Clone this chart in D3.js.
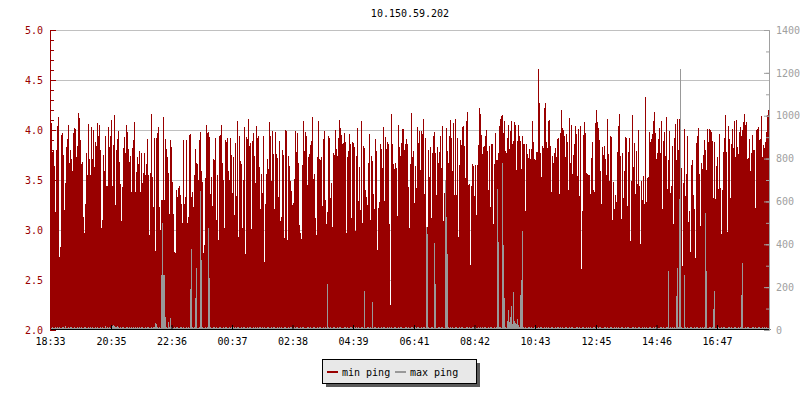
<!DOCTYPE html>
<html><head><meta charset="utf-8">
<script src="https://cdn.jsdelivr.net/npm/d3@7"></script>
<style>
body{margin:0;background:#fff}
svg{display:block}
text{font-family:"DejaVu Sans Mono",monospace;font-size:10px}
</style>
</head><body><svg id="chart" width="800" height="400"></svg>
<script>
const title = "10.150.59.202";
const startLabel = "18:33";
const stepMinutes = 2;
const timeLabels = ["18:33","20:35","22:36","00:37","02:38","04:39","06:41","08:42","10:43","12:45","14:46","16:47"];
const leftTicks = [2.0,2.5,3.0,3.5,4.0,4.5,5.0];
const rightTicks = [0,200,400,600,800,1000,1200,1400];
const seriesNames = ["min ping","max ping"];
const seriesColors = ["#990000","#999999"];

const minPing = [
3.53,4.07,3.78,3.80,3.64,3.18,3.80,4.04,4.13,2.73,
2.83,3.95,3.97,3.75,3.20,3.47,3.83,3.91,4.05,3.67,
3.80,3.71,3.59,3.97,4.02,4.01,3.73,3.84,4.17,4.12,
3.90,3.66,3.68,3.13,2.97,3.26,3.77,3.55,4.06,3.71,
3.55,4.03,3.71,4.00,3.63,3.88,3.84,4.07,3.94,4.05,
3.80,3.02,3.10,3.75,3.59,3.94,3.44,3.44,4.03,3.83,
3.94,4.10,3.44,3.85,4.15,3.25,3.80,3.91,3.99,3.68,
3.46,3.09,3.43,3.82,3.93,3.77,4.05,3.98,3.81,3.68,
3.74,3.38,3.82,3.90,4.08,3.38,3.58,3.73,3.66,3.79,
3.38,3.77,3.47,3.57,3.77,3.55,3.66,3.91,3.55,2.95,
3.57,4.16,3.53,3.23,3.92,2.79,3.92,3.97,4.03,3.23,
3.00,3.30,3.30,4.13,3.30,3.91,3.81,3.73,3.57,3.16,
3.90,3.83,3.48,3.16,2.78,2.77,3.40,3.33,3.42,3.44,
3.35,3.26,3.07,3.90,3.26,3.33,3.90,3.07,3.13,3.95,
3.96,3.33,3.38,3.23,3.55,3.81,3.67,3.66,3.50,3.90,
3.98,3.59,3.48,2.77,2.85,3.52,4.05,3.97,3.98,3.93,
3.36,3.53,3.24,3.71,3.70,3.92,3.10,3.55,2.90,3.94,
3.95,4.05,3.67,3.50,3.02,3.90,3.88,3.92,3.59,3.50,
3.92,3.75,3.37,3.73,3.15,3.87,3.34,4.09,2.93,3.94,
3.69,3.66,3.02,3.50,4.03,2.76,3.93,3.91,4.11,3.84,
3.87,3.01,3.89,3.97,3.74,3.47,4.04,3.92,3.94,3.63,
3.21,3.56,3.37,3.94,2.68,3.26,3.56,3.71,3.61,4.08,
3.94,3.49,3.99,3.76,3.21,3.98,3.76,3.72,3.33,3.89,
3.09,3.13,3.80,3.75,2.92,4.00,3.99,2.90,3.74,3.64,
3.49,3.39,3.25,3.27,3.51,3.99,3.78,3.97,3.67,3.05,
2.97,2.91,3.65,4.09,3.79,3.98,3.94,3.45,3.73,3.76,
3.85,3.89,4.13,3.51,3.56,3.12,2.95,3.73,4.09,3.71,
3.70,3.73,3.24,3.91,3.99,3.30,3.06,3.18,3.94,3.92,
3.32,3.47,3.03,3.77,3.75,4.00,3.81,3.74,3.92,4.10,
4.02,3.95,3.86,3.87,3.97,3.88,2.97,3.73,3.79,3.96,
3.86,3.12,3.88,3.87,3.83,2.99,3.74,4.02,3.29,3.63,
3.20,4.09,3.07,3.84,3.82,3.40,3.33,3.25,3.67,3.96,
3.10,3.74,3.69,3.36,3.21,3.91,3.79,2.80,3.22,3.28,
3.86,3.81,3.62,4.03,3.29,3.93,3.81,3.88,3.86,3.06,
2.25,4.16,3.86,3.66,3.61,3.67,3.62,3.14,4.05,3.83,
3.74,3.87,4.01,4.01,3.80,3.86,3.91,3.86,3.43,3.02,
3.66,4.17,3.73,3.79,3.27,3.64,3.42,4.03,3.87,3.99,
3.60,3.99,3.96,4.11,3.36,3.92,3.03,3.03,3.80,3.53,
3.83,3.12,3.77,3.94,3.98,3.77,3.35,3.83,3.67,3.78,
3.94,3.62,4.04,3.09,3.37,2.95,4.02,3.79,3.67,3.94,
4.10,3.92,3.59,4.07,3.35,4.11,3.35,3.92,2.93,3.65,
3.90,3.85,4.03,4.04,3.84,3.52,4.09,4.18,3.45,3.46,
2.65,3.44,3.66,3.64,3.34,3.65,3.15,3.65,3.85,4.22,
4.16,3.95,3.76,3.83,3.84,3.94,4.00,3.79,3.40,3.84,
3.23,3.86,3.86,3.06,3.66,3.97,3.70,3.70,3.77,4.04,
4.11,4.14,4.15,3.97,4.09,3.79,3.77,3.92,4.05,3.81,
3.99,4.09,3.86,3.89,4.08,4.05,3.60,3.89,4.05,3.94,
3.89,3.61,3.94,3.86,3.86,3.19,3.86,3.76,3.72,3.81,
3.71,3.81,4.09,3.88,3.71,3.70,3.78,3.78,4.61,4.27,
3.77,3.53,3.84,3.82,4.22,4.27,3.88,3.82,4.09,4.10,
3.84,3.38,3.74,3.67,3.77,3.82,3.73,3.91,3.92,3.36,
3.97,4.20,4.02,4.00,3.94,3.73,3.96,3.88,3.40,4.12,
3.67,4.05,3.56,3.75,3.86,4.04,3.96,3.54,4.01,3.34,
4.04,2.61,3.19,3.95,4.08,3.97,3.57,3.56,3.55,3.55,
3.36,3.72,3.88,3.40,3.38,4.07,4.20,4.08,4.02,3.90,
3.59,3.26,3.83,3.75,3.84,3.71,3.55,4.11,3.76,3.49,
3.94,3.93,3.10,3.48,3.21,3.35,3.28,3.78,4.04,4.16,
3.74,3.11,3.77,3.32,3.59,3.93,3.92,3.24,3.78,3.92,
2.89,3.49,4.15,3.63,3.87,3.36,3.79,3.46,4.00,3.44,
2.86,3.49,3.30,3.54,3.26,4.33,3.28,3.52,3.53,3.98,
3.88,3.91,3.96,4.09,4.18,3.97,3.71,3.77,3.91,4.02,
3.77,4.09,3.21,3.89,3.98,3.74,4.13,3.41,3.70,3.99,
3.37,3.44,3.84,3.06,3.92,4.06,3.70,4.11,3.80,4.11,
3.85,3.62,2.64,3.47,4.01,3.34,3.56,3.94,3.08,3.19,
2.78,3.65,3.70,3.35,3.21,2.72,3.87,3.94,4.02,3.56,
3.04,3.67,3.61,3.75,3.90,3.80,3.60,4.01,3.88,4.01,
4.00,3.98,3.89,3.32,3.88,3.31,3.64,3.73,3.41,3.96,
3.42,2.96,3.40,3.78,3.92,4.15,3.78,2.98,4.04,3.91,
3.32,3.86,4.01,3.82,4.09,3.73,4.10,3.83,3.76,3.98,
4.03,3.94,4.00,4.08,4.16,4.05,4.08,3.71,3.72,3.91,
3.59,3.77,3.95,3.80,3.80,3.22,4.00,4.01,4.03,3.90,
3.91,4.14,3.73,3.85,3.82,3.88,3.98,4.15,4.20,4.20
];

const maxPing = [
12,9,14,10,11,13,9,16,10,12,11,9,14,12,10,18,11,9,13,10,12,15,10,9,13,11,10,14,9,12,
10,13,11,9,16,12,10,11,14,9,12,10,13,11,9,15,10,12,11,9,14,10,12,9,11,17,10,13,9,12,
11,14,20,22,18,15,12,19,13,11,14,10,12,16,11,9,13,12,10,15,11,12,9,14,10,13,11,16,10,12,
9,12,14,10,11,13,9,12,15,10,11,14,9,13,12,33,30,12,10,14,11,257,500,257,257,60,13,10,36,12,
56,14,11,9,13,10,12,15,11,9,14,12,10,13,11,9,12,10,14,11,191,378,12,10,13,149,289,11,9,14,
649,327,14,11,10,13,9,12,476,243,15,11,10,13,12,9,14,11,10,12,13,9,11,15,10,12,14,9,11,13,
10,12,9,14,11,13,10,12,15,9,11,13,10,14,12,9,11,13,10,12,14,9,11,12,10,13,9,15,11,12,
13,10,12,9,14,11,10,13,12,9,11,15,10,12,13,9,11,14,10,12,9,13,11,10,14,12,9,11,13,10,
12,14,9,11,13,10,12,15,9,11,14,10,12,13,9,11,10,14,12,9,13,11,10,12,15,9,11,13,10,12,
14,9,11,12,10,13,11,215,12,9,14,11,10,13,12,9,11,14,10,12,13,9,11,10,14,12,9,13,11,10,
12,14,9,11,13,10,12,9,14,11,10,13,12,9,182,11,10,14,12,9,13,11,130,10,12,14,9,11,13,10,
11,13,9,12,14,10,11,13,9,12,10,14,11,9,13,12,10,11,14,9,12,13,10,11,9,14,12,10,13,11,
9,12,14,10,11,13,9,12,15,10,11,14,9,13,12,10,482,448,14,11,10,13,12,9,406,215,11,10,13,12,
10,14,12,9,11,700,527,355,13,10,12,9,14,11,10,13,12,9,11,14,10,12,13,9,11,10,14,12,9,13,
11,10,12,14,9,13,11,10,12,9,14,11,13,10,12,15,11,9,13,10,12,14,9,11,13,10,12,658,411,14,
12,9,779,397,150,13,11,40,95,38,60,110,30,177,42,35,28,50,22,14,163,233,462,12,10,13,11,9,14,12,
10,13,11,9,14,12,10,11,13,9,12,14,10,11,13,9,12,10,14,11,9,13,12,10,11,14,9,12,13,10,
12,9,14,11,10,13,12,9,11,14,10,12,13,9,11,10,14,12,9,13,11,10,12,14,9,11,13,10,12,9,
14,11,10,13,12,9,11,14,10,12,13,9,11,10,14,12,9,13,11,10,12,14,9,11,13,10,12,9,14,11,
10,13,12,9,11,14,10,12,13,9,11,10,14,12,9,13,11,10,12,14,9,11,13,10,12,9,14,11,10,13,
12,9,11,14,10,12,13,9,11,10,14,12,9,13,11,10,12,14,275,11,13,10,12,9,14,11,159,289,12,611,
1218,14,11,10,257,12,9,13,11,10,14,12,9,11,13,10,12,14,9,11,13,10,12,9,14,546,275,11,10,13,
12,9,14,98,182,11,10,13,12,9,11,14,10,12,13,9,11,10,14,12,9,13,11,10,12,14,9,11,13,10,
12,163,313,9,11,14,10,12,13,9,11,10,14,12,9,13,11,10,12,14,9,11,13,10,12,9,14,11,10,13
];

const svg = d3.select("#chart");
const W = 800, H = 400;
const plot = {left: 50, right: 770, top: 30, bottom: 330};
const N = 720;

function parseHM(s, dayOffset) {
  const [h, m] = s.split(":").map(Number);
  return new Date(2020, 0, 1 + dayOffset, h, m);
}
const t0 = parseHM(startLabel, 0);
const tAt = i => new Date(t0.getTime() + i * stepMinutes * 60000);
const tickDates = timeLabels.map(s => {
  let d = parseHM(s, 0);
  if (d < t0) d = parseHM(s, 1);
  return d;
});

const x = d3.scaleTime().domain([t0, tAt(N)]).range([plot.left, plot.right]);
const yL = d3.scaleLinear().domain([2, 5]).range([plot.bottom, plot.top]);
const yR = d3.scaleLinear().domain([0, 1400]).range([plot.bottom, plot.top]);

// grid
svg.append("g").selectAll("line").data(leftTicks.slice(1)).join("line")
  .attr("x1", plot.left).attr("x2", plot.right)
  .attr("y1", d => Math.round(yL(d)) + 0.5).attr("y2", d => Math.round(yL(d)) + 0.5)
  .attr("stroke", "#c0c0c0").attr("stroke-width", 1);

// min ping bars
svg.append("g").attr("shape-rendering", "crispEdges").selectAll("rect")
  .data(minPing.slice(0, N)).join("rect")
  .attr("x", (d, i) => x(tAt(i)))
  .attr("width", (d, i) => x(tAt(i + 1)) - x(tAt(i)))
  .attr("y", d => yL(Math.min(d, 5)))
  .attr("height", d => yL(2) - yL(Math.min(d, 5)))
  .attr("fill", seriesColors[0]);

// max ping bars
svg.append("g").attr("shape-rendering", "crispEdges").selectAll("rect")
  .data(maxPing.slice(0, N)).join("rect")
  .attr("x", (d, i) => x(tAt(i)))
  .attr("width", (d, i) => x(tAt(i + 1)) - x(tAt(i)))
  .attr("y", d => yR(d))
  .attr("height", d => yR(0) - yR(d))
  .attr("fill", seriesColors[1]);

// bottom axis
const gx = svg.append("g").attr("transform", `translate(0,${plot.bottom - 1})`)
  .call(d3.axisBottom(x).tickValues(tickDates).tickFormat((d, i) => timeLabels[i])
    .tickSizeInner(-4).tickSizeOuter(0).tickPadding(9));
gx.select(".domain").attr("stroke", "#000");
gx.selectAll(".tick line").attr("stroke", "#000");
gx.selectAll("text").attr("fill", "#000").style("font-family", '"DejaVu Sans Mono",monospace').style("font-size", "10px");

// left axis minor + major
const minorL = d3.range(20, 51).map(v => v / 10);
svg.append("g").attr("transform", `translate(${plot.left},0)`)
  .call(d3.axisLeft(yL).tickValues(minorL).tickFormat("").tickSizeInner(-4).tickSizeOuter(0))
  .call(g => g.selectAll("line,path").attr("stroke", "#990000"));
const gl = svg.append("g").attr("transform", `translate(${plot.left},0)`)
  .call(d3.axisLeft(yL).tickValues(leftTicks).tickFormat(d3.format(".1f"))
    .tickSizeInner(-6).tickSizeOuter(0).tickPadding(7));
gl.selectAll("line,path").attr("stroke", "#990000");
gl.selectAll("text").attr("fill", "#990000").style("font-family", '"DejaVu Sans Mono",monospace').style("font-size", "10px");

// right axis
const minorR = d3.range(0, 1401, 100);
svg.append("g").attr("transform", `translate(${plot.right - 1},0)`)
  .call(d3.axisRight(yR).tickValues(minorR).tickFormat("").tickSizeInner(-3).tickSizeOuter(0))
  .call(g => g.selectAll("line,path").attr("stroke", "#a0a0a0"));
const gr = svg.append("g").attr("transform", `translate(${plot.right - 1},0)`)
  .call(d3.axisRight(yR).tickValues(rightTicks).tickFormat(d3.format("d"))
    .tickSizeInner(-5).tickSizeOuter(0).tickPadding(7));
gr.selectAll("line,path").attr("stroke", "#a0a0a0");
gr.selectAll("text").attr("fill", "#a0a0a0").style("font-family", '"DejaVu Sans Mono",monospace').style("font-size", "10px");

// title
svg.append("text").attr("x", (plot.left + plot.right) / 2).attr("y", 17)
  .attr("text-anchor", "middle").attr("fill", "#000").text(title);

// legend
const lg = svg.append("g");
lg.append("rect").attr("x", 326).attr("y", 363).attr("width", 154).attr("height", 24).attr("fill", "#5a5a5a");
lg.append("rect").attr("x", 322.5).attr("y", 359.5).attr("width", 154).attr("height", 24)
  .attr("fill", "#e8e8e8").attr("stroke", "#000").attr("stroke-width", 1);
const legendX = [327, 395];
seriesNames.forEach((name, i) => {
  lg.append("line").attr("x1", legendX[i]).attr("x2", legendX[i] + 11)
    .attr("y1", 372).attr("y2", 372).attr("stroke", seriesColors[i]).attr("stroke-width", 2);
  lg.append("text").attr("x", legendX[i] + 15).attr("y", 376).attr("fill", "#000").text(name);
});
</script>
</body></html>
